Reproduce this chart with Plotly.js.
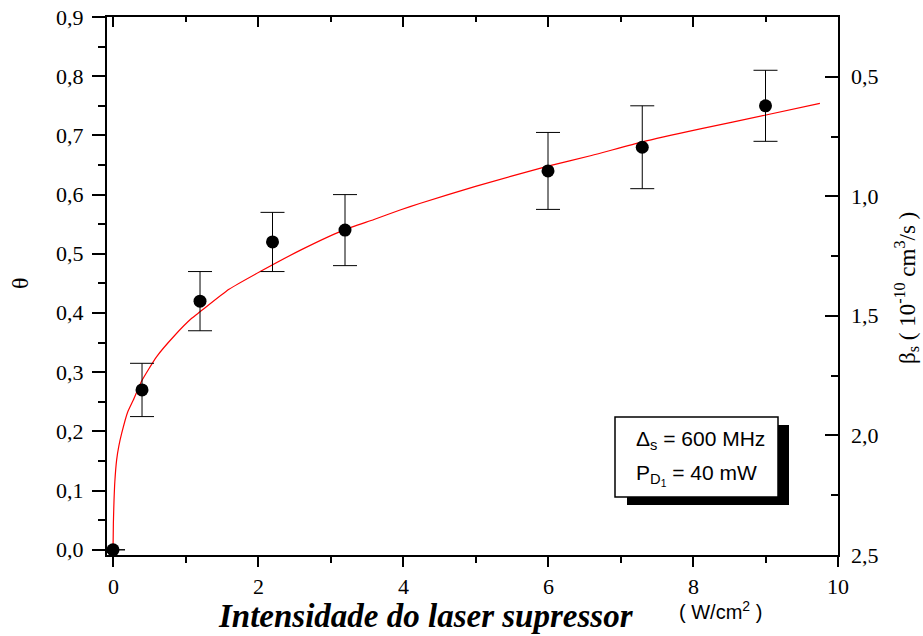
<!DOCTYPE html>
<html>
<head>
<meta charset="utf-8">
<script src="https://cdn.plot.ly/plotly-3.0.1.min.js"></script>
<style>html,body{margin:0;padding:0;background:#fff;}#chart{width:923px;height:636px;}</style>
</head>
<body>
<div id="chart"></div>
<script>
// Measured data (θ vs. suppressor laser intensity)
const intensity = [0, 0.4, 1.2, 2.2, 3.2, 6.0, 7.3, 9.0];
const theta     = [0, 0.27, 0.42, 0.52, 0.54, 0.64, 0.68, 0.75];
const thetaErr  = [0, 0.045, 0.05, 0.05, 0.06, 0.065, 0.07, 0.06];

// Fitted curve
const fitX = [0, 0.005, 0.014, 0.025, 0.05, 0.08, 0.12, 0.2, 0.28, 0.39, 0.6, 0.85, 1.085, 1.2, 1.6, 2.03, 2.6, 3.18, 3.6, 3.96, 4.23, 5.0, 6.0, 6.6, 7.3, 8.1, 8.99, 9.75];
const fitY = [0, 0.045, 0.084, 0.115, 0.152, 0.175, 0.197, 0.232, 0.253, 0.284, 0.326, 0.362, 0.391, 0.402, 0.440, 0.470, 0.507, 0.540, 0.558, 0.574, 0.585, 0.614, 0.648, 0.666, 0.689, 0.711, 0.734, 0.754];

// Tick values and labels
const xTicks = [0, 2, 4, 6, 8, 10];
const xTickLabels = ['0', '2', '4', '6', '8', '10'];
const thetaTicks = [0, 0.1, 0.2, 0.3, 0.4, 0.5, 0.6, 0.7, 0.8, 0.9];
const thetaTickLabels = ['0,0', '0,1', '0,2', '0,3', '0,4', '0,5', '0,6', '0,7', '0,8', '0,9'];
const betaTicks = [0.5, 1.0, 1.5, 2.0, 2.5];
const betaTickLabels = ['0,5', '1,0', '1,5', '2,0', '2,5'];

const serif = "Liberation Serif";
const sans = "Liberation Sans";

const traces = [
  {x: fitX, y: fitY, mode: 'lines', line: {color: '#ff0000', width: 1.2, shape: 'spline', smoothing: 0.5}, hoverinfo: 'skip', showlegend: false},
  {x: intensity, y: theta, mode: 'markers', marker: {color: '#000', size: 13},
   error_y: {type: 'data', array: thetaErr, visible: true, color: '#000', thickness: 1, width: 12},
   showlegend: false},
  {x: [5], y: [0.5], xaxis: 'x2', yaxis: 'y', mode: 'markers', marker: {opacity: 0}, hoverinfo: 'skip', showlegend: false},
  {x: [5], y: [1.0], xaxis: 'x', yaxis: 'y2', mode: 'markers', marker: {opacity: 0}, hoverinfo: 'skip', showlegend: false}
];

const X0 = 107, W = 731, Y0 = 555, H = 538;
const px = v => (v - X0) / W;
const py = v => (Y0 - v) / H;

function ann(text, x, y, font, extra) {
  return Object.assign({text: text, xref: 'paper', yref: 'paper', x: px(x), y: py(y),
    xanchor: 'center', yanchor: 'middle', showarrow: false, font: font}, extra || {});
}

const tickFont = {family: serif, size: 22, color: '#000'};
const tickAnns = [];
xTicks.forEach((v, i) => tickAnns.push({text: xTickLabels[i], xref: 'x', yref: 'paper', x: v, y: py(586),
  xanchor: 'center', yanchor: 'middle', showarrow: false, font: tickFont}));
thetaTicks.forEach((v, i) => tickAnns.push({text: thetaTickLabels[i], xref: 'paper', yref: 'y', x: px(86), y: v,
  xanchor: 'right', yanchor: 'middle', showarrow: false, font: tickFont}));
betaTicks.forEach((v, i) => tickAnns.push({text: betaTickLabels[i], xref: 'paper', yref: 'y2', x: px(849), y: v,
  xanchor: 'left', yanchor: 'middle', showarrow: false, font: tickFont}));

const layout = {
  width: 923, height: 636,
  margin: {l: 107, r: 85, t: 17, b: 81},
  paper_bgcolor: '#fff', plot_bgcolor: '#fff',
  showlegend: false,
  xaxis: {
    range: [-0.083, 10], tickvals: xTicks, ticks: 'outside', ticklen: 10, tickwidth: 2, tickcolor: '#000',
    minor: {dtick: 1, ticks: 'outside', ticklen: 6, tickwidth: 2, tickcolor: '#000'},
    showticklabels: false, showline: true, linewidth: 2, linecolor: '#000', showgrid: false, zeroline: false
  },
  xaxis2: {
    overlaying: 'x', side: 'top', range: [-0.083, 10], tickvals: xTicks, ticks: 'inside', ticklen: 10, tickwidth: 2, tickcolor: '#000',
    minor: {dtick: 1, ticks: 'inside', ticklen: 5, tickwidth: 2, tickcolor: '#000'},
    showticklabels: false, showline: true, linewidth: 2, linecolor: '#000', showgrid: false, zeroline: false
  },
  yaxis: {
    range: [-0.0088, 0.9], tickvals: thetaTicks, ticks: 'outside', ticklen: 13, tickwidth: 2, tickcolor: '#000',
    minor: {dtick: 0.05, ticks: 'outside', ticklen: 7, tickwidth: 2, tickcolor: '#000'},
    showticklabels: false, showline: true, linewidth: 2, linecolor: '#000', showgrid: false, zeroline: false
  },
  yaxis2: {
    overlaying: 'y', side: 'right', range: [2.5, 0.25], tickvals: betaTicks,
    ticks: 'inside', ticklen: 13, tickwidth: 2, tickcolor: '#000',
    minor: {dtick: 0.25, tick0: 0, ticks: 'inside', ticklen: 7, tickwidth: 2, tickcolor: '#000'},
    showticklabels: false, showline: true, linewidth: 2, linecolor: '#000', showgrid: false, zeroline: false
  },
  shapes: [
    {type: 'rect', xref: 'paper', yref: 'paper', x0: px(627), x1: px(789), y0: py(505), y1: py(425), fillcolor: '#000', line: {width: 0}},
    {type: 'rect', xref: 'paper', yref: 'paper', x0: px(615), x1: px(778), y0: py(497), y1: py(417), fillcolor: '#fff', line: {color: '#000', width: 1.5}}
  ],
  annotations: tickAnns.concat([
    ann('θ', 20, 283, {family: serif, size: 24, color: '#000'}, {textangle: -90}),
    ann('β<sub>s</sub> ( 10<sup>-10</sup> cm<sup>3</sup>/s )', 906, 288, {family: serif, size: 23, color: '#000'}, {textangle: -90}),
    ann('<b><i>Intensidade do laser supressor</i></b>', 426, 616, {family: serif, size: 33, color: '#000'}),
    ann('( W/cm<sup>2</sup> )', 720, 610, {family: sans, size: 20, color: '#000'}),
    ann('Δ<sub>s</sub> = 600 MHz', 634, 440, {family: sans, size: 21, color: '#000'}, {xanchor: 'left'}),
    ann('P<sub>D<sub>1</sub></sub> = 40 mW', 634, 475, {family: sans, size: 21, color: '#000'}, {xanchor: 'left'})
  ])
};

Plotly.newPlot('chart', traces, layout, {displayModeBar: false, staticPlot: true});
</script>
</body>
</html>
